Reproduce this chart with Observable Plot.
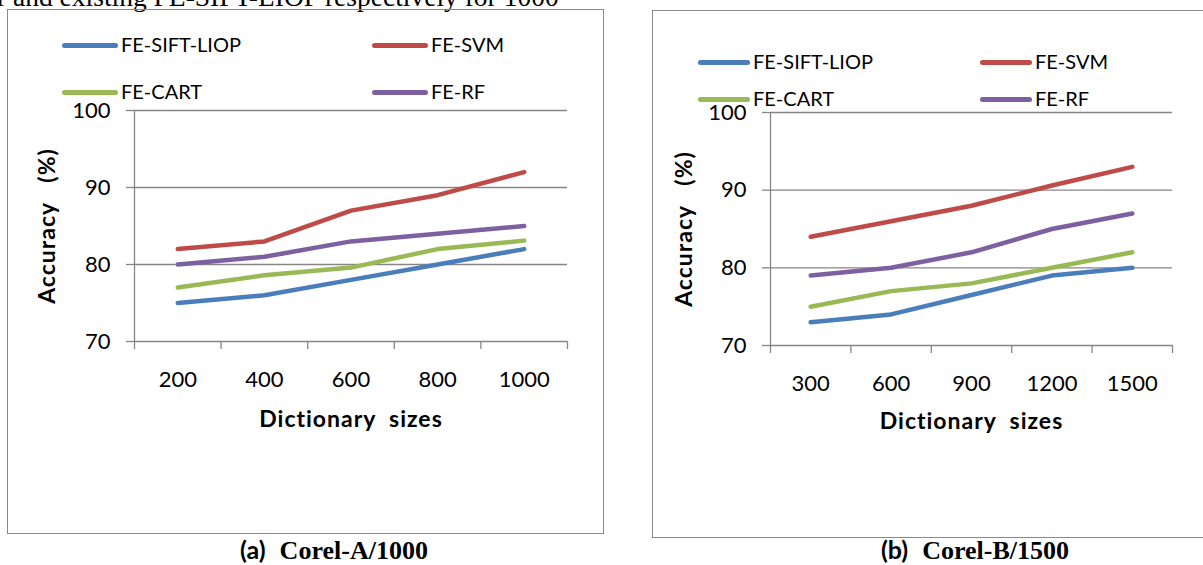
<!DOCTYPE html>
<html><head><meta charset="utf-8">
<script src="https://cdn.jsdelivr.net/npm/d3@7"></script>
<script src="https://cdn.jsdelivr.net/npm/@observablehq/plot@0.6"></script>
<style>
body{margin:0;background:#fff;width:1203px;height:565px;overflow:hidden;position:relative;font-family:Lato,"Open Sans",sans-serif;}
.abs{position:absolute;}
.panel{position:absolute;border:1.5px solid #8a8a8a;box-sizing:border-box;}
.sw{position:absolute;height:5px;border-radius:3px;}
.lt{position:absolute;font-size:20px;line-height:20px;color:#000;white-space:nowrap;}
.cap{position:absolute;white-space:nowrap;font-weight:700;transform:translateX(-50%);line-height:25px;}
.cap .s{font-family:Lato,sans-serif;font-size:25px;}
.cap .t{font-family:"Liberation Serif","DejaVu Serif",serif;font-size:26px;margin-left:14px;}
svg g[aria-label="y-axis label"] text, svg g[aria-label="x-axis label"] text{font-weight:700;font-size:23px;letter-spacing:1px;}
</style></head><body>
<script>
const seriesNames = ["FE-SIFT-LIOP","FE-SVM","FE-CART","FE-RF"];
const seriesColors = ["#4A7EBB","#BE4B48","#98B954","#7D60A0"];
const yTicks = [70, 80, 90, 100];

const sizesA = ["200","400","600","800","1000"];
const siftA = [75, 76, 78, 80, 82];
const svmA  = [82, 83, 87, 89, 92];
const cartA = [77, 78.6, 79.6, 82, 83.1];
const rfA   = [80, 81, 83, 84, 85];

const sizesB = ["300","600","900","1200","1500"];
const siftB = [73, 74, 76.5, 79, 80];
const svmB  = [84, 86, 88, 90.6, 93];
const cartB = [75, 77, 78, 80, 82];
const rfB   = [79, 80, 82, 85, 87];

const topText = "r and existing FE-SIFT-LIOP respectively for 1000";
const yTitle = "Accuracy\u00a0\u00a0\u00a0(%)";
const xTitle = "Dictionary\u00a0\u00a0sizes";

function el(tag, cls, css, text){
  const e = document.createElement(tag);
  if (cls) e.className = cls;
  Object.assign(e.style, css || {});
  if (text != null) e.textContent = text;
  document.body.appendChild(e);
  return e;
}

el("div","abs",{left:"-3px",top:"-17px",fontFamily:"'Liberation Serif',serif",fontSize:"27.5px",lineHeight:"28px",whiteSpace:"nowrap"},topText);

function panel(cfg){
  el("div","panel",{left:cfg.box[0]+"px",top:cfg.box[1]+"px",width:cfg.box[2]+"px",height:cfg.box[3]+"px"});
  seriesNames.forEach((name,k)=>{
    const col = k%2, row = Math.floor(k/2);
    const sx = cfg.leg.cols[col], cy = cfg.leg.rows[row];
    el("div","sw",{left:sx+"px",top:(cy-2.5)+"px",width:cfg.leg.sw+"px",background:seriesColors[k]});
    el("div","lt",{left:(sx+cfg.leg.sw+3)+"px",top:(cy-11)+"px"},name);
  });
  const n = cfg.sizes.length;
  const rows = [];
  cfg.series.forEach((vals,k)=>vals.forEach((v,i)=>rows.push({i, series:seriesNames[k], acc:v})));
  const chart = Plot.plot({
    width: cfg.W, height: cfg.H,
    marginLeft: cfg.ml, marginRight: cfg.mr, marginTop: cfg.mt, marginBottom: cfg.mb,
    style:{fontFamily:"Lato, 'Open Sans', sans-serif", fontSize:"22px", color:"#000", background:"transparent", overflow:"visible"},
    x:{type:"linear", domain:[0,n], axis:null},
    y:{domain:[70,100], axis:null},
    color:{domain:seriesNames, range:seriesColors},
    marks:[
      Plot.gridY(yTicks, {stroke:"#868686", strokeOpacity:1, strokeWidth:1.3}),
      Plot.axisY(yTicks, {tickSize:8, stroke:"#868686", strokeWidth:1.3, tickPadding:cfg.ytp, fontSize:22,
        label:yTitle, labelAnchor:"center", labelOffset:cfg.ylo, labelArrow:"none"}),
      Plot.ruleX([0], {stroke:"#868686", strokeWidth:1.3}),
      Plot.axisX(d3.range(n+1), {tickSize:8, stroke:"#868686", strokeWidth:1.3, tickFormat:()=>"", label:null}),
      Plot.axisX(d3.range(n).map(i=>i+0.5), {tickSize:0, tickPadding:cfg.xtp, fontSize:22,
        tickFormat:v=>cfg.sizes[Math.floor(v)], label:xTitle, labelAnchor:"center", labelOffset:cfg.xlo, labelArrow:"none"}),
      Plot.lineY(rows, {x:d=>d.i+0.5, y:"acc", z:"series", stroke:"series", strokeWidth:4.5, strokeLinecap:"round", strokeLinejoin:"round"})
    ]
  });
  chart.style.position = "absolute";
  chart.style.left = cfg.pos[0]+"px";
  chart.style.top = cfg.pos[1]+"px";
  document.body.appendChild(chart);
  const cap = el("div","cap",{left:cfg.cap[0]+"px",top:(cfg.cap[1]-13)+"px"});
  const s = document.createElement("span"); s.className="s"; s.textContent = cfg.capA; cap.appendChild(s);
  const t = document.createElement("span"); t.className="t"; t.textContent = cfg.capB; cap.appendChild(t);
}

panel({box:[7,9,597,525], leg:{cols:[62,372], rows:[45,92], sw:56},
  sizes:sizesA, series:[siftA,svmA,cartA,rfA],
  pos:[7,90], W:590, H:345, ml:127, mr:30, mt:20, mb:94, ytp:16, ylo:96, xtp:30, xlo:85,
  cap:[334,550], capA:"(a)", capB:"Corel-A/1000"});

panel({box:[652,10,570,528], leg:{cols:[698,980], rows:[62,99], sw:52},
  sizes:sizesB, series:[siftB,svmB,cartB,rfB],
  pos:[652,92], W:551, H:345, ml:118, mr:31, mt:20, mb:92, ytp:16, ylo:95, xtp:30, xlo:83,
  cap:[975,550], capA:"(b)", capB:"Corel-B/1500"});
</script>
</body></html>
